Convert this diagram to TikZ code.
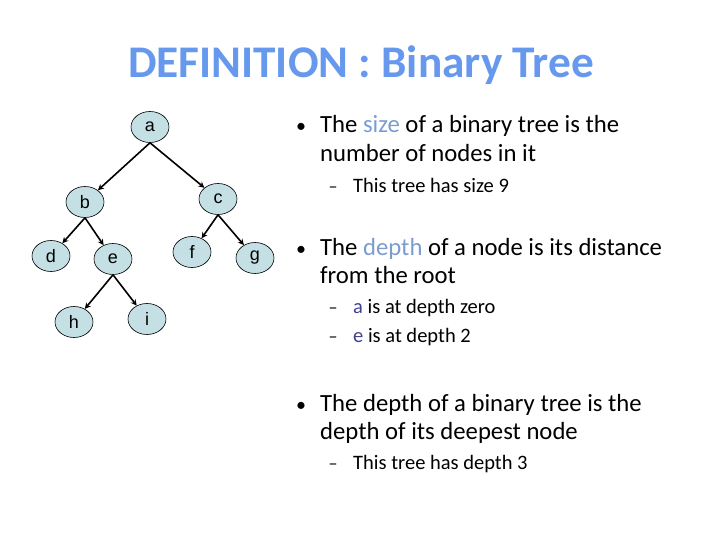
\documentclass[tikz,border=0pt]{standalone}
\usepackage{fontspec}
\setmainfont{Carlito}
\newfontfamily\arialfont{Liberation Sans}
\usepackage{tikz}
\usetikzlibrary{shapes.geometric, arrows.meta, positioning}
\definecolor{titleblue}{RGB}{102,153,238}
\definecolor{hlblue}{RGB}{122,156,207}
\definecolor{subblue}{RGB}{64,64,140}
\definecolor{nodefill}{RGB}{196,224,228}
\tikzstyle{arrow} = [line width=1.6pt, -{Stealth[length=6pt, width=6pt]}]

\begin{document}
\begin{tikzpicture}[
	x=1pt, y=-1pt,
	treenode/.style={ellipse, draw=black, line width=0.6pt, fill=nodefill, minimum width=38pt, minimum height=31pt, inner sep=0pt, font=\arialfont\fontsize{18}{20}\selectfont},
	bigline/.style={anchor=base west, inner sep=0pt, font=\fontsize{24.7}{28}\selectfont},
	smallline/.style={anchor=base west, inner sep=0pt, font=\fontsize{20.5}{22}\selectfont},
	bulletmark/.style={anchor=base, inner sep=0pt, font=\fontsize{20}{28}\selectfont},
	dashmark/.style={anchor=base, inner sep=0pt, font=\fontsize{18}{22}\selectfont}
]
\useasboundingbox (0,0) rectangle (720,540);

% Title
\node[anchor=base, inner sep=0pt, text=titleblue, font=\bfseries\fontsize{45.3}{54}\selectfont] (title) at (361,78) {DEFINITION : Binary Tree};

% Tree nodes
\node[treenode] (a) at (150,127) {a};
\node[treenode] (b) at (85,202) {b};
\node[treenode] (c) at (218,199) {c};
\node[treenode] (d) at (51,256) {d};
\node[treenode] (e) at (113,259) {e};
\node[treenode] (f) at (192,252) {f};
\node[treenode] (g) at (255,258) {g};
\node[treenode] (h) at (74,322) {h};
\node[treenode] (i) at (147,319) {i};

% Tree edges
\draw[arrow] (a.south) -- (b);
\draw[arrow] (a.south) -- (c);
\draw[arrow] (b.south) -- (d);
\draw[arrow] (b.south) -- (e);
\draw[arrow] (c.south) -- (f);
\draw[arrow] (c.south) -- (g);
\draw[arrow] (e.south) -- (h);
\draw[arrow] (e.south) -- (i);

% Size
\node[bulletmark] (bul1) at (301,133) {•};
\node[bigline] (size1) at (320,133) {The \textcolor{hlblue}{size} of a binary tree is the};
\node[bigline] (size2) at (320,162) {number of nodes in it};
\node[dashmark] (dash1) at (333,193) {–};
\node[smallline] (size3) at (353,193) {This tree has size 9};

% Depth of a node
\node[bulletmark] (bul2) at (301,255) {•};
\node[bigline] (depth1) at (320,255) {The \textcolor{hlblue}{depth} of a node is its distance};
\node[bigline] (depth2) at (320,283) {from the root};
\node[dashmark] (dash2) at (333,313) {–};
\node[smallline] (depth3) at (353,313) {\textcolor{subblue}{a} is at depth zero};
\node[dashmark] (dash3) at (333,342) {–};
\node[smallline] (depth4) at (353,342) {\textcolor{subblue}{e} is at depth 2};

% Depth of a tree
\node[bulletmark] (bul3) at (301,411) {•};
\node[bigline] (tree1) at (320,411) {The depth of a binary tree is the};
\node[bigline] (tree2) at (320,439) {depth of its deepest node};
\node[dashmark] (dash4) at (333,469) {–};
\node[smallline] (tree3) at (353,469) {This tree has depth 3};

\end{tikzpicture}
\end{document}
